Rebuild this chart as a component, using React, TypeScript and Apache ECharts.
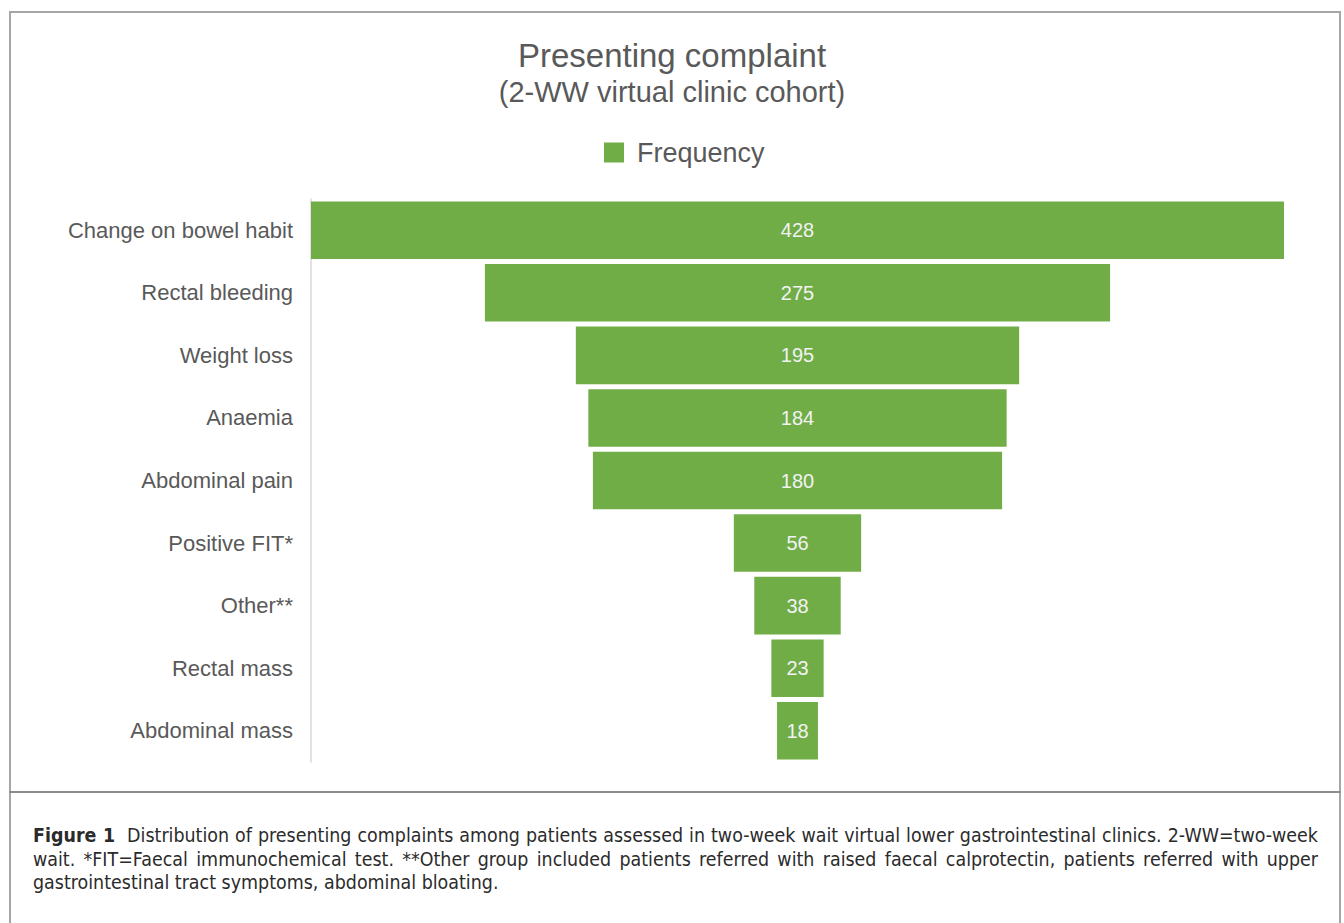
import React, { useEffect, useRef } from "react";
import * as echarts from "echarts";

const categories = [
  "Change on bowel habit",
  "Rectal bleeding",
  "Weight loss",
  "Anaemia",
  "Abdominal pain",
  "Positive FIT*",
  "Other**",
  "Rectal mass",
  "Abdominal mass",
];
const frequency = [428, 275, 195, 184, 180, 56, 38, 23, 18];
const axisMax = 428;

const titleText = "Presenting complaint";
const subtitleText = "(2-WW virtual clinic cohort)";
const legendLabel = "Frequency";

const captionLines = [
  "Distribution of presenting complaints among patients assessed in two-week wait virtual lower gastrointestinal clinics. 2-WW=two-week",
  "wait. *FIT=Faecal immunochemical test. **Other group included patients referred with raised faecal calprotectin, patients referred with upper",
  "gastrointestinal tract symptoms, abdominal bloating.",
];

const FONT = "Liberation Sans, Arial, sans-serif";

export default function App() {
  const ref = useRef<HTMLDivElement | null>(null);

  useEffect(() => {
    if (!ref.current) return;
    const chart = echarts.init(ref.current, undefined, { renderer: "svg" });
    const offset = frequency.map((v) => (axisMax - v) / 2);
    chart.setOption({
      animation: false,
      textStyle: { fontFamily: FONT },
      title: [
        {
          text: titleText,
          left: "center",
          top: 34,
          textStyle: { fontSize: 33, fontWeight: "normal", color: "#595959", fontFamily: FONT },
        },
        {
          text: subtitleText,
          left: "center",
          top: 72,
          textStyle: { fontSize: 29, fontWeight: "normal", color: "#595959", fontFamily: FONT },
        },
      ],
      legend: {
        data: [legendLabel],
        top: 134,
        left: 599,
        icon: "rect",
        itemWidth: 20,
        itemHeight: 20,
        textStyle: { fontSize: 27, color: "#595959", fontFamily: FONT, padding: [0, 0, 0, 8] },
      },
      grid: { left: 311, top: 199, width: 973, height: 563, containLabel: false },
      xAxis: { type: "value", min: 0, max: axisMax, show: false },
      yAxis: {
        type: "category",
        data: categories,
        inverse: true,
        axisLine: { show: true, lineStyle: { color: "#d9d9d9", width: 1.5 } },
        axisTick: { show: false },
        axisLabel: { color: "#595959", fontSize: 22, margin: 18, fontFamily: FONT },
        splitLine: { show: false },
      },
      series: [
        {
          name: "offset",
          type: "bar",
          stack: "funnel",
          data: offset,
          barCategoryGap: "8%",
          itemStyle: { color: "rgba(0,0,0,0)" },
          label: { show: false },
          silent: true,
        },
        {
          name: legendLabel,
          type: "bar",
          stack: "funnel",
          data: frequency,
          barCategoryGap: "8%",
          itemStyle: { color: "#70ad47" },
          label: {
            show: true,
            position: "inside",
            color: "#f2f2f2",
            fontSize: 20,
            fontFamily: FONT,
          },
        },
      ],
    });
    return () => chart.dispose();
  }, []);

  const SCALE = 0.92;
  const lineStyle: React.CSSProperties = {
    position: "absolute",
    left: 33,
    width: 1285 / SCALE,
    height: 24,
    lineHeight: "24px",
    fontFamily: "'DejaVu Sans', sans-serif",
    fontSize: 19,
    color: "#2b2b2b",
    whiteSpace: "nowrap",
    transform: `scaleX(${SCALE})`,
    transformOrigin: "0 0",
  };

  return (
    <div
      style={{
        position: "fixed",
        left: 0,
        top: 0,
        width: 1344,
        height: 923,
        overflow: "hidden",
        background: "#ffffff",
      }}
    >
      <div
        style={{
          position: "absolute",
          left: 9,
          top: 11,
          width: 1332,
          height: 1000,
          border: "2px solid #a6a6a6",
          boxSizing: "border-box",
        }}
      />
      <div
        style={{
          position: "absolute",
          left: 9,
          top: 791,
          width: 1332,
          height: 2,
          background: "#8c8c8c",
        }}
      />
      <div ref={ref} style={{ position: "absolute", left: 0, top: 0, width: 1344, height: 785 }} />
      <div style={{ ...lineStyle, top: 823, textAlign: "justify", textAlignLast: "justify" } as React.CSSProperties}>
        <b>Figure 1</b>&nbsp; {captionLines[0]}
      </div>
      <div style={{ ...lineStyle, top: 847, textAlign: "justify", textAlignLast: "justify" } as React.CSSProperties}>
        {captionLines[1]}
      </div>
      <div style={{ ...lineStyle, top: 870 }}>{captionLines[2]}</div>
    </div>
  );
}
